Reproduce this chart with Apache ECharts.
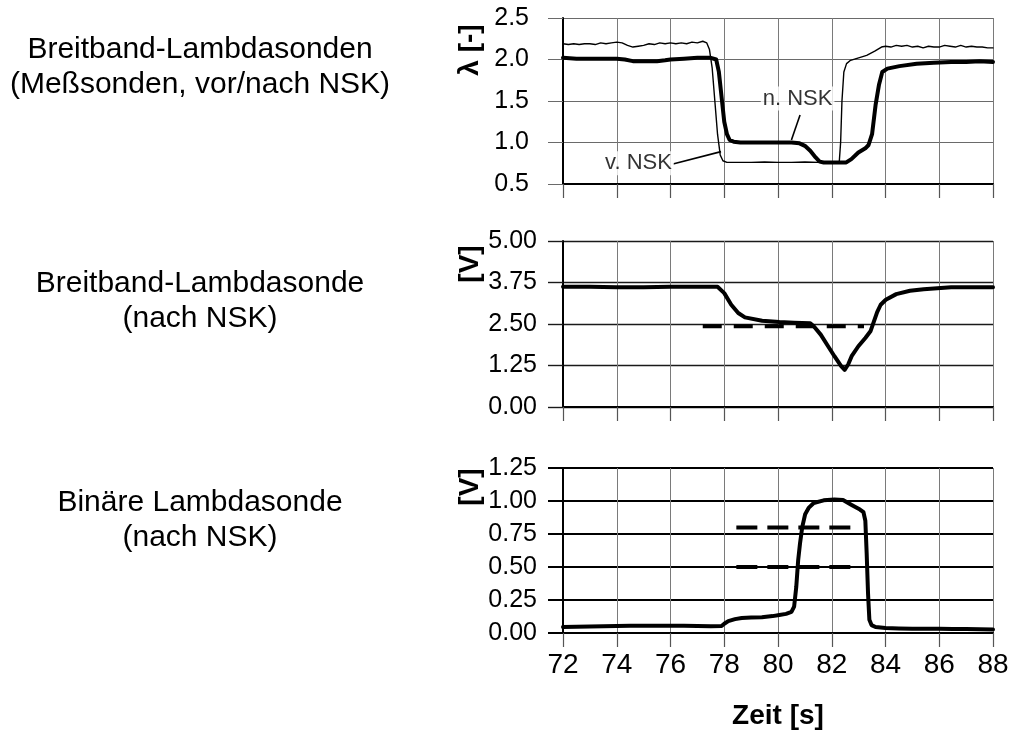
<!DOCTYPE html>
<html>
<head>
<meta charset="utf-8">
<script src="https://cdn.jsdelivr.net/npm/echarts@6/dist/echarts.min.js"></script>
<style>
  html, body { margin: 0; padding: 0; background: #fff; }
  #chart { width: 1012px; height: 731px; }
</style>
</head>
<body>
<div id="chart"></div>
<script>
const FONT = "'Liberation Sans', Arial, Helvetica, sans-serif";

// Zeit [s] / Lambda-Werte der Breitbandsonde vor dem NSK
const lambdaVorNSK = [
  [72.0, 2.19], [72.2, 2.18], [72.4, 2.19], [72.6, 2.18], [72.8, 2.19], [73.0, 2.19],
  [73.2, 2.18], [73.4, 2.20], [73.6, 2.19], [73.8, 2.20], [74.0, 2.21], [74.2, 2.20],
  [74.4, 2.17], [74.6, 2.15], [74.8, 2.16], [75.0, 2.17], [75.2, 2.19], [75.4, 2.18],
  [75.6, 2.20], [75.8, 2.19], [76.0, 2.20], [76.2, 2.19], [76.4, 2.20], [76.6, 2.19],
  [76.8, 2.21], [77.0, 2.20], [77.2, 2.22], [77.35, 2.20], [77.45, 2.12], [77.55, 1.90],
  [77.65, 1.50], [77.75, 1.10], [77.85, 0.85], [77.95, 0.78], [78.1, 0.76], [78.5, 0.76],
  [79.0, 0.76], [79.5, 0.765], [80.0, 0.76], [80.5, 0.76], [81.0, 0.765], [81.5, 0.76],
  [82.0, 0.76], [82.28, 0.77], [82.33, 1.00], [82.38, 1.50], [82.45, 1.85], [82.55, 1.95],
  [82.7, 1.99], [83.0, 2.02], [83.3, 2.05], [83.6, 2.10], [83.85, 2.15], [84.0, 2.16],
  [84.2, 2.15], [84.4, 2.17], [84.6, 2.16], [84.8, 2.17], [85.0, 2.15], [85.2, 2.16],
  [85.4, 2.14], [85.6, 2.16], [85.8, 2.15], [86.0, 2.15], [86.2, 2.17], [86.4, 2.16],
  [86.6, 2.15], [86.8, 2.17], [87.0, 2.15], [87.2, 2.16], [87.4, 2.15], [87.6, 2.15],
  [87.8, 2.14], [88.0, 2.14]
];

// Lambda-Werte der Breitbandsonde nach dem NSK
const lambdaNachNSK = [
  [72.0, 2.02], [72.5, 2.01], [73.0, 2.01], [73.5, 2.01], [74.0, 2.01], [74.3, 2.00],
  [74.6, 1.98], [75.0, 1.98], [75.5, 1.98], [75.8, 1.99], [76.0, 2.00], [76.5, 2.01],
  [77.0, 2.02], [77.5, 2.02], [77.7, 2.00], [77.8, 1.85], [77.9, 1.55], [78.0, 1.25],
  [78.1, 1.10], [78.2, 1.03], [78.35, 1.01], [78.6, 1.00], [79.0, 1.00], [79.5, 1.00],
  [80.0, 1.00], [80.5, 1.00], [80.8, 0.99], [81.0, 0.96], [81.2, 0.90], [81.4, 0.82],
  [81.55, 0.77], [81.7, 0.76], [82.0, 0.76], [82.3, 0.76], [82.54, 0.76], [82.73, 0.80],
  [82.99, 0.88], [83.25, 0.93], [83.37, 0.97], [83.5, 1.10], [83.63, 1.45], [83.76, 1.70],
  [83.88, 1.85], [84.07, 1.89], [84.52, 1.92], [85.16, 1.95], [85.8, 1.96], [86.44, 1.97],
  [87.0, 1.97], [87.5, 1.98], [88.0, 1.97]
];

// Sondenspannung [V] der Breitbandsonde nach dem NSK
const spannungBreitband = [
  [72.0, 3.62], [73.0, 3.62], [74.0, 3.61], [75.0, 3.61], [76.0, 3.62], [77.0, 3.62],
  [77.75, 3.62], [78.0, 3.43], [78.26, 3.08], [78.52, 2.83], [78.77, 2.70], [79.41, 2.60],
  [80.05, 2.56], [80.6, 2.54], [81.2, 2.52], [81.33, 2.43], [81.59, 2.18], [81.84, 1.86],
  [82.1, 1.53], [82.35, 1.23], [82.48, 1.12], [82.61, 1.28], [82.74, 1.53], [82.99, 1.83],
  [83.25, 2.08], [83.44, 2.28], [83.57, 2.58], [83.69, 2.86], [83.82, 3.08], [84.01, 3.23],
  [84.4, 3.40], [84.91, 3.50], [85.42, 3.55], [86.44, 3.61], [87.2, 3.61], [88.0, 3.61]
];

// Sondenspannung [V] der binären Lambdasonde nach dem NSK
const spannungBinaer = [
  [72.0, 0.045], [72.5, 0.048], [73.0, 0.050], [73.5, 0.052], [74.0, 0.053], [74.5, 0.055],
  [75.0, 0.055], [75.5, 0.054], [76.0, 0.055], [76.5, 0.055], [77.0, 0.053], [77.5, 0.052],
  [77.9, 0.053], [78.0, 0.070], [78.15, 0.090], [78.4, 0.105], [78.65, 0.114], [79.0, 0.117],
  [79.4, 0.120], [79.8, 0.128], [80.05, 0.136], [80.3, 0.145], [80.5, 0.160], [80.6, 0.200],
  [80.68, 0.350], [80.75, 0.550], [80.82, 0.680], [80.9, 0.800], [81.01, 0.900], [81.15, 0.950],
  [81.33, 0.985], [81.7, 1.005], [82.1, 1.012], [82.42, 1.008], [82.74, 0.970], [83.05, 0.935],
  [83.18, 0.915], [83.25, 0.850], [83.3, 0.600], [83.35, 0.300], [83.4, 0.100], [83.48, 0.060],
  [83.63, 0.045], [84.0, 0.038], [84.5, 0.035], [85.0, 0.033], [85.5, 0.032], [86.0, 0.032],
  [86.5, 0.031], [87.0, 0.030], [87.5, 0.028], [88.0, 0.026]
];

// Schwellwerte (gestrichelt)
const schwelleBreitband = [[77.2, 2.43], [83.2, 2.43]];
const schwelleBinaerOben = [[78.45, 0.80], [82.95, 0.80]];
const schwelleBinaerUnten = [[78.45, 0.50], [82.95, 0.50]];

// Beschriftungen der Lambdakurven und ihre Hinweislinien
const kurvenNamen = [[80.73, 1.53, 'n. NSK'], [74.81, 0.75, 'v. NSK']];
const hinweisLinien = [
  [[80.82, 1.33], [80.50, 1.03]],
  [[76.09, 0.74], [77.88, 0.89]]
];

const sondenTitel = [
  ['Breitband-Lambdasonden', '(Meßsonden, vor/nach NSK)'],
  ['Breitband-Lambdasonde', '(nach NSK)'],
  ['Binäre Lambdasonde', '(nach NSK)']
];
const yNamen = ['λ [-]', '[V]', '[V]'];
const xName = 'Zeit [s]';
const zeitBereich = { min: 72, max: 88, interval: 2 };
const yBereiche = [
  { min: 0.5, max: 2.5, interval: 0.5, digits: 1 },
  { min: 0, max: 5, interval: 1.25, digits: 2 },
  { min: 0, max: 1.25, interval: 0.25, digits: 2 }
];

// layout of the three stacked panels
const panelTops = [18, 241, 468];
const panelHeight = 166;
const panelLeft = 563;
const panelWidth = 430;
const titleY = [[50, 85], [284, 319], [503, 538]];
const yNameX = 470;
const yNameY = [50, 264, 487];
const yLabelMargins = [34, 26, 26];
const hLineStyles = [
  { color: '#6a6a6a', width: 1 },
  { color: '#1a1a1a', width: 1.4 },
  { color: '#000000', width: 2 }
];

const chart = echarts.init(document.getElementById('chart'), null, { renderer: 'canvas' });

const grids = panelTops.map(top => ({
  left: panelLeft, top: top, width: panelWidth, height: panelHeight, containLabel: false
}));

const xAxes = panelTops.map((_, i) => ({
  type: 'value', gridIndex: i,
  min: zeitBereich.min, max: zeitBereich.max, interval: zeitBereich.interval,
  axisLine: { show: true, onZero: false, lineStyle: { color: '#000', width: 2 } },
  axisTick: { show: true, inside: false, length: 14, lineStyle: { color: '#555', width: 1.2 } },
  axisLabel: {
    show: i === 2, margin: 18, fontSize: 28, color: '#000', fontFamily: FONT,
    formatter: v => String(v)
  },
  splitLine: { show: true, lineStyle: { color: '#7a7a7a', width: 1 } },
  name: i === 2 ? xName : '',
  nameLocation: 'middle', nameGap: 69,
  nameTextStyle: { fontSize: 28, fontWeight: 'bold', color: '#000', fontFamily: FONT }
}));

const yAxes = yBereiche.map((b, i) => ({
  type: 'value', gridIndex: i,
  min: b.min, max: b.max, interval: b.interval,
  axisLine: { show: true, onZero: false, lineStyle: { color: '#000', width: 2 } },
  axisTick: { show: true, inside: false, length: 15, lineStyle: hLineStyles[i] },
  axisLabel: {
    margin: yLabelMargins[i], fontSize: 25, color: '#000', fontFamily: FONT,
    formatter: v => v.toFixed(b.digits)
  },
  splitLine: { show: true, lineStyle: hLineStyles[i] }
}));

function kurve(data, grid, width) {
  return {
    type: 'line', xAxisIndex: grid, yAxisIndex: grid, data: data,
    showSymbol: false, symbol: 'none', smooth: false, animation: false, z: 5,
    lineStyle: { color: '#000', width: width, cap: 'round', join: 'round' }
  };
}
function schwelle(data, grid, dash) {
  return {
    type: 'line', xAxisIndex: grid, yAxisIndex: grid, data: data,
    showSymbol: false, symbol: 'none', animation: false, z: 4,
    lineStyle: { color: '#000', width: 4, type: dash, cap: 'butt' }
  };
}

const series = [
  Object.assign(kurve(lambdaVorNSK, 0, 1.4), {
    markLine: {
      silent: true, symbol: ['none', 'none'], animation: false,
      label: { show: false },
      lineStyle: { color: '#000', width: 1.6, type: 'solid' },
      data: hinweisLinien.map(([a, b]) => [{ coord: a }, { coord: b }])
    }
  }),
  kurve(lambdaNachNSK, 0, 4),
  schwelle(schwelleBreitband, 1, [19, 12]),
  kurve(spannungBreitband, 1, 4),
  schwelle(schwelleBinaerOben, 2, [21, 10]),
  schwelle(schwelleBinaerUnten, 2, [21, 10]),
  kurve(spannungBinaer, 2, 4),
  {
    type: 'scatter', xAxisIndex: 0, yAxisIndex: 0, symbolSize: 0, z: 8, animation: false,
    data: kurvenNamen,
    label: {
      show: true, position: 'inside', formatter: p => p.value[2],
      fontSize: 22, color: '#000', fontFamily: FONT,
      backgroundColor: '#fff', padding: [1, 2]
    }
  }
];

const graphic = [];
sondenTitel.forEach((lines, i) => {
  lines.forEach((t, j) => {
    graphic.push({
      type: 'text', x: 200, y: titleY[i][j],
      style: { text: t, fontSize: 30, fontFamily: FONT, fill: '#000', textAlign: 'center', textVerticalAlign: 'middle' }
    });
  });
});
yNamen.forEach((t, i) => {
  graphic.push({
    type: 'text', x: yNameX, y: yNameY[i], rotation: Math.PI / 2,
    style: { text: t, fontSize: 28, fontWeight: 'bold', fontFamily: FONT, fill: '#000', textAlign: 'center', textVerticalAlign: 'middle' }
  });
});

chart.setOption({
  animation: false,
  backgroundColor: '#fff',
  grid: grids,
  xAxis: xAxes,
  yAxis: yAxes,
  series: series,
  graphic: graphic
});
</script>
</body>
</html>
